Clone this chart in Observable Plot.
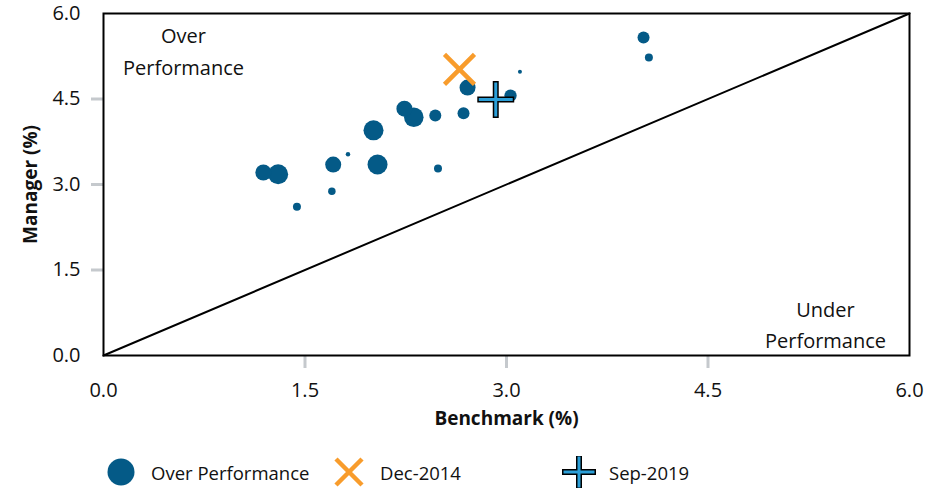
<!DOCTYPE html>
<html>
<head>
<meta charset="utf-8">
<script src="https://cdn.jsdelivr.net/npm/d3@7"></script>
<script src="https://cdn.jsdelivr.net/npm/@observablehq/plot@0.6"></script>
<style>
  html, body { margin: 0; padding: 0; background: #fff; }
  #wrap { position: relative; width: 940px; height: 490px; font-family: "Open Sans", sans-serif; }
  #chart svg { display: block; }
  .leg { position: absolute; top: 456px; height: 32px; display: flex; align-items: center; font-size: 18.5px; color: #111; }
  .leg svg { display: block; }
</style>
</head>
<body>
<div id="wrap">
  <div id="chart"></div>
  <div id="legend"></div>
</div>
<script>
// ---- data ----
const benchmark = [1.19, 1.30, 1.44, 1.70, 1.71, 1.82, 2.01, 2.04, 2.24, 2.31, 2.47, 2.49, 2.68, 2.71, 3.03, 3.10, 4.02, 4.06];
const manager   = [3.21, 3.18, 2.61, 2.88, 3.35, 3.53, 3.95, 3.35, 4.33, 4.18, 4.21, 3.28, 4.25, 4.70, 4.56, 4.98, 5.58, 5.23];
const weight    = [64, 100, 16, 14, 64, 5, 100, 100, 64, 95, 36, 16, 36, 64, 38, 4, 36, 16];
const dec2014 = {benchmark: 2.65, manager: 5.02};
const sep2019 = {benchmark: 2.92, manager: 4.49};
const axisDomain = [0, 6];
const tickValues = [0, 1.5, 3, 4.5, 6];
const innerTicks = [1.5, 3, 4.5];
const legendLabels = ["Over Performance", "Dec-2014", "Sep-2019"];

const points = benchmark.map((b, i) => ({benchmark: b, manager: manager[i], weight: weight[i]}));

const BLUE = "#045a87";
const ORANGE = "#f89c2c";
const LIGHTBLUE = "#2b9fd8";
const GRAY = "#c5c9cd";
const FONT = "Open Sans";

const chart = Plot.plot({
  width: 940,
  height: 450,
  marginLeft: 103,
  marginRight: 31,
  marginTop: 13,
  marginBottom: 95,
  style: {fontFamily: FONT, fontSize: "20px", color: "#111", background: "#fff"},
  x: {domain: axisDomain},
  y: {domain: axisDomain},
  r: {type: "sqrt", domain: [0, 100], range: [0, 10]},
  marks: [
    // gray tick marks outside the frame
    Plot.axisX({ticks: innerTicks, tickFormat: () => "", tickSize: 13, stroke: GRAY, strokeWidth: 3, label: null}),
    Plot.axisY({ticks: innerTicks, tickFormat: () => "", tickSize: 12, stroke: GRAY, strokeWidth: 3, label: null}),
    // tick labels
    Plot.axisX({ticks: tickValues, tickFormat: d3.format(".1f"), tickSize: 0, tickPadding: 27, fontSize: 20, label: null}),
    Plot.axisY({ticks: tickValues, tickFormat: d3.format(".1f"), tickSize: 0, tickPadding: 23, fontSize: 20, label: null}),
    // diagonal
    Plot.line(axisDomain, {x: d => d, y: d => d, stroke: "#000", strokeWidth: 2}),
    Plot.frame({stroke: "#000", strokeWidth: 2}),
    // data
    Plot.dot(points, {x: "benchmark", y: "manager", r: "weight", fill: BLUE}),
    Plot.dot([dec2014], {x: "benchmark", y: "manager", symbol: "times", r: 13.7, stroke: ORANGE, strokeWidth: 4.5}),
    Plot.dot([sep2019], {x: "benchmark", y: "manager", symbol: "plus", r: 10, stroke: "#000", strokeWidth: 6, strokeLinecap: "square"}),
    Plot.dot([sep2019], {x: "benchmark", y: "manager", symbol: "plus", r: 10, stroke: LIGHTBLUE, strokeWidth: 3, strokeLinecap: "square"}),
    // annotations
    Plot.text(["Over\nPerformance"], {frameAnchor: "top-left", dx: 80, dy: 7, textAnchor: "middle", lineAnchor: "top", lineHeight: 1.6, fontSize: 20, fill: "#111"}),
    Plot.text(["Under\nPerformance"], {frameAnchor: "bottom-right", dx: -84, dy: -8, textAnchor: "middle", lineAnchor: "bottom", lineHeight: 1.55, fontSize: 20, fill: "#111"}),
    // axis titles
    Plot.text(["Benchmark (%)"], {frameAnchor: "bottom", dy: 69, textAnchor: "middle", fontSize: 19, fontWeight: "bold", fill: "#111"}),
    Plot.text(["Manager (%)"], {frameAnchor: "left", dx: -73, textAnchor: "middle", rotate: -90, fontSize: 19, fontWeight: "bold", fill: "#111"})
  ]
});
document.getElementById("chart").appendChild(chart);

// ---- legend ----
const legend = document.getElementById("legend");
const items = [
  {left: 107, sym: `<svg width="28" height="32"><circle cx="14" cy="16" r="13.5" fill="${BLUE}"/></svg>`, label: legendLabels[0], gap: 16},
  {left: 332, sym: `<svg width="34" height="32"><path d="M4,3 L30,29 M30,3 L4,29" stroke="${ORANGE}" stroke-width="4.5"/></svg>`, label: legendLabels[1], gap: 14},
  {left: 562, sym: `<svg width="34" height="32"><path d="M3,16 H31 M17,2 V30" stroke="#000" stroke-width="6" stroke-linecap="square"/><path d="M3,16 H31 M17,2 V30" stroke="${LIGHTBLUE}" stroke-width="3" stroke-linecap="square"/></svg>`, label: legendLabels[2], gap: 13}
];
for (const it of items) {
  const d = document.createElement("div");
  d.className = "leg";
  d.style.left = it.left + "px";
  d.innerHTML = it.sym + `<span style="margin-left:${it.gap}px">${it.label}</span>`;
  legend.appendChild(d);
}
</script>
</body>
</html>
